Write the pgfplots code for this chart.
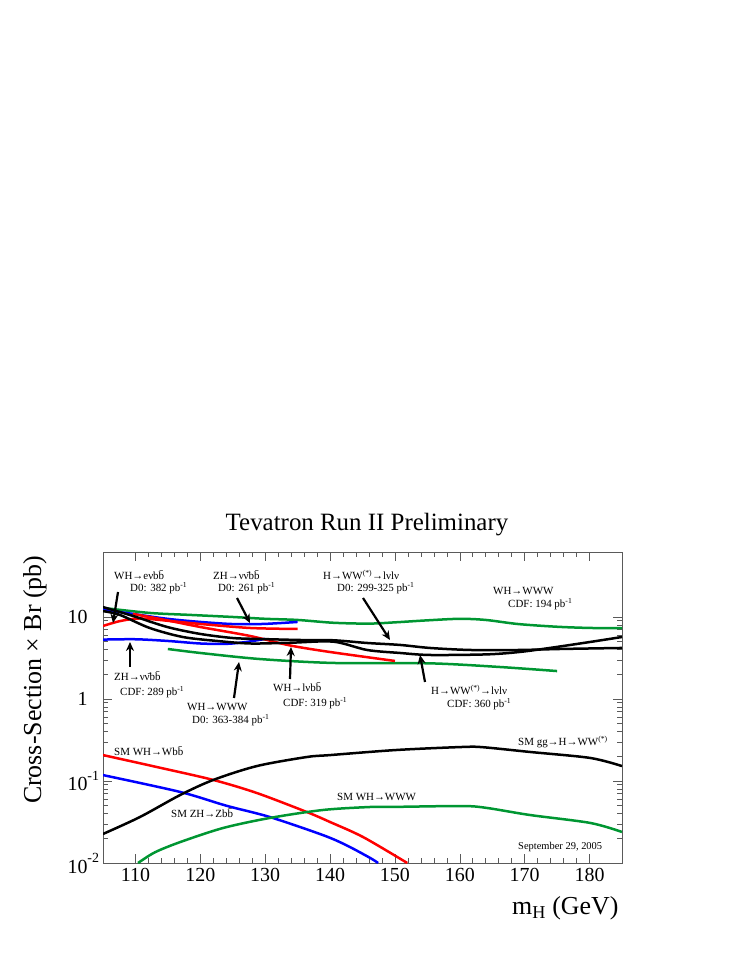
\documentclass[border=0pt]{standalone}
\usepackage{fontspec}
\setmainfont{Liberation Serif}
\usepackage{pgfplots}
\pgfplotsset{compat=1.18}
\usetikzlibrary{arrows.meta}
\definecolor{rgreen}{RGB}{0,150,50}
\definecolor{axgray}{RGB}{90,90,90}
\newcommand{\bb}{b\=b}
\newcommand{\nn}{ν\=ν}
\newcommand{\ex}[1]{10\rlap{\raisebox{0.55em}{\fontsize{14}{14}\selectfont #1}}}
\begin{document}
\begin{tikzpicture}[x=1bp,y=1bp]
\useasboundingbox (0,0) rectangle (747,967);
\begin{axis}[
  at={(103bp,104bp)}, anchor=south west,
  scale only axis, width=519bp, height=311bp,
  xmin=105, xmax=185, ymode=log, ymin=0.01, ymax=62,
  xtick={110,120,...,180},
  xticklabels={110,120,130,140,150,160,170,180},
  minor x tick num=4,
  ytick={0.01,0.1,1,10},
  yticklabels={\ex{-2},\ex{-1},1,10},
  tick label style={font=\fontsize{20}{22}\selectfont},
  xticklabel style={yshift=-2bp},
  yticklabel style={anchor=east, xshift=-12bp},
  major tick length=9bp, minor tick length=5bp,
  tick align=inside,
  axis line style={axgray, line width=0.6bp},
  every tick/.style={axgray, line width=0.6bp},
  /pgf/number format/assume math mode=true,
  every axis plot/.append style={line width=2.5bp, smooth, tension=0.5},
]
% WH->WWW CDF 194
\addplot[rgreen] coordinates {(105,12.9)(112.2,11.2)(118.4,10.6)(125,10.0)(130,9.5)(135,9.2)(140.5,8.5)(146,8.3)(150,8.6)(155,9.1)(160,9.5)(164,9.2)(169,8.2)(175,7.6)(180,7.35)(185,7.3)};
% WH->WWW D0
\addplot[rgreen] coordinates {(115,4.07)(120,3.64)(129.2,3.07)(140.5,2.75)(155.4,2.72)(166,2.46)(175,2.19)};
% ZH->nunubb D0 261
\addplot[blue] coordinates {(105,12.3)(109.6,10.9)(114.9,9.5)(120,8.7)(125,8.2)(129.2,8.2)(132,8.4)(135,8.7)};
% ZH->nunubb CDF 289
\addplot[blue] coordinates {(105,5.3)(110,5.35)(115,5.1)(120,4.75)(124,4.7)(127,4.95)(130,5.4)};
% WH->enubb D0 382
\addplot[red] coordinates {(105,7.77)(107.6,8.9)(110.7,9.6)(115.3,8.94)(120,8.22)(127.7,7.34)(135,7.14)};
% WH->lnubb CDF 319
\addplot[red] coordinates {(109.6,10.9)(113.8,9.46)(120,7.55)(127.7,5.86)(133.8,4.5)(140,3.74)(150,2.91)};
% H->WW D0
\addplot[black] coordinates {(105,13.2)(109.6,10.3)(114.9,7.55)(120,6.21)(125,5.54)(129.2,5.39)(135.4,5.24)(140.5,5.2)(145.7,4.82)(150.8,4.56)(155.4,4.19)(161.6,3.96)(169.3,3.96)(175.4,4.07)(185,4.19)};
% H->WW CDF
\addplot[black] coordinates {(105,11.8)(107.6,10.6)(112.2,7.34)(117.3,5.70)(122.6,5.10)(127.7,4.75)(133.8,4.85)(140.5,5.0)(145.7,3.96)(150.8,3.64)(155.4,3.44)(164.2,3.5)(169.3,3.75)(174.4,4.25)(180.1,4.96)(185,5.70)};
% SM WH->Wbb
\addplot[red] coordinates {(105,0.207)(113.3,0.148)(122,0.103)(128.7,0.0714)(136.4,0.0419)(140,0.0316)(145.1,0.0207)(151.9,0.01)};
% SM ZH->Zbb
\addplot[blue] coordinates {(105,0.118)(116.9,0.0735)(124,0.050)(130.7,0.0364)(138.9,0.0219)(142.5,0.0165)(146.2,0.0115)(147.4,0.01)};
% SM gg->H->WW
\addplot[black] coordinates {(105,0.0226)(110.7,0.0364)(116.9,0.0675)(122,0.103)(128.7,0.152)(136.4,0.196)(140,0.207)(150.3,0.239)(160.5,0.260)(163.6,0.258)(170.8,0.226)(180.1,0.191)(185,0.152)};
% SM WH->WWW
\addplot[rgreen] coordinates {(110.4,0.01)(113,0.0135)(116.9,0.0180)(123.5,0.0267)(130.7,0.0354)(138.9,0.0443)(146.2,0.0482)(150.3,0.0484)(160.5,0.0495)(164.2,0.0469)(170.8,0.0385)(180.1,0.0308)(185,0.0239)};
\end{axis}
% title and axis labels
\node[font=\fontsize{25}{28}\selectfont] at (367,442) {Tevatron Run II Preliminary};
\node[rotate=90, anchor=east, font=\fontsize{26}{28}\selectfont] at (35,415) {Cross-Section × Br (pb)};
\node[anchor=base east, font=\fontsize{26}{28}\selectfont] at (622,52) {m\textsubscript{H} (GeV)};
% annotations
\begin{scope}[every node/.style={anchor=west, inner sep=0pt, font=\fontsize{11}{13}\selectfont}]
\node at (114,392) {WH→eν\bb};
\node at (130,379) {D0: 382 pb\textsuperscript{-1}};
\node at (213,392) {ZH→\nn\bb};
\node at (218,379) {D0: 261 pb\textsuperscript{-1}};
\node at (114,291) {ZH→\nn\bb};
\node at (120,275) {CDF: 289 pb\textsuperscript{-1}};
\node at (273,280) {WH→lν\bb};
\node at (283,264) {CDF: 319 pb\textsuperscript{-1}};
\node at (187,260) {WH→WWW};
\node at (192,247) {D0: 363-384 pb\textsuperscript{-1}};
\node at (323,392) {H→WW\textsuperscript{(*)}→lνlν};
\node at (337,379) {D0: 299-325 pb\textsuperscript{-1}};
\node at (493,376) {WH→WWW};
\node at (508,363) {CDF: 194 pb\textsuperscript{-1}};
\node at (431,277) {H→WW\textsuperscript{(*)}→lνlν};
\node at (447,263) {CDF: 360 pb\textsuperscript{-1}};
\node at (114,216) {SM WH→W\bb};
\node at (171,154) {SM ZH→Z\bb};
\node at (518,225) {SM gg→H→WW\textsuperscript{(*)}};
\node at (337,170) {SM WH→WWW};
\node[font=\fontsize{10.5}{12}\selectfont] at (518,120) {September 29, 2005};
\end{scope}
\begin{scope}[line width=2.2bp, -{Stealth[length=9bp,width=8bp]}]
\draw (118,375) -- (113,344);
\draw (237,369) -- (250,344);
\draw (130,300) -- (130,325);
\draw (290,288) -- (291,320);
\draw (234,269) -- (239,305);
\draw (363,369) -- (390,327);
\draw (425,285) -- (420,312);
\end{scope}
\end{tikzpicture}
\end{document}
